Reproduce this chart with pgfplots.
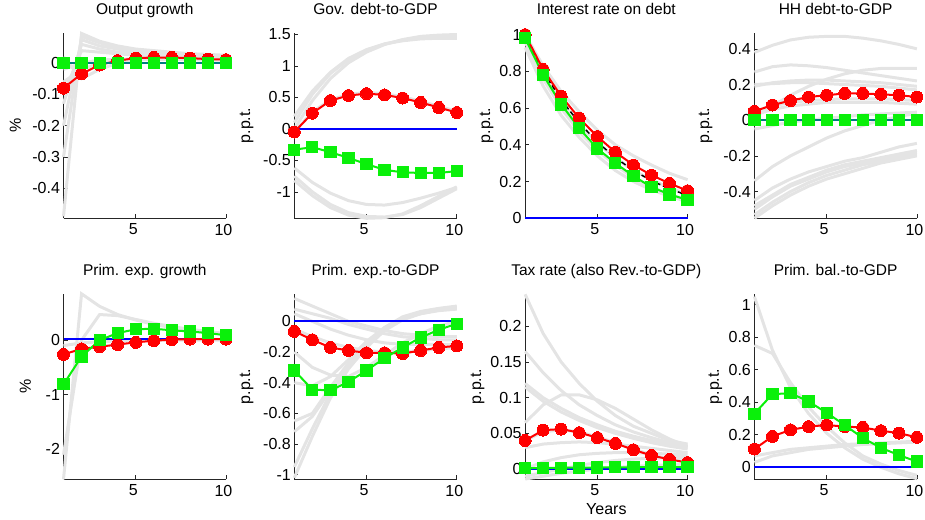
\documentclass[border=0pt]{standalone}
\usepackage{pgfplots}
\pgfplotsset{compat=1.18}
\usepackage{fontspec}
\setmainfont{Liberation Sans}
\definecolor{gl}{RGB}{228,228,228}
\definecolor{mred}{RGB}{255,0,0}
\definecolor{mgreen}{RGB}{10,240,10}
\definecolor{mblue}{RGB}{0,0,255}
\definecolor{mteal}{RGB}{0,125,128}
\newcommand{\fs}{\fontsize{16}{18}\selectfont}
\newcommand{\fst}{\fontsize{15.5}{17}\selectfont}
\newcommand{\gline}[1]{\addplot[grayl] table[x expr=\coordindex+1, y index=0, header=false, row sep=\\]{#1};}
\pgfplotsset{
 panel/.style={scale only axis, width=162.5pt, height=185.5pt, xmin=1, xmax=10, xtick={5,10},
  axis x line*=bottom, axis y line*=left, axis line style={-, draw=black!85, line width=0.7pt},
  tick align=inside, major tick length=4pt, tick style={draw=black!85, line width=0.7pt},
  tick label style={font=\fs}, /pgf/number format/assume math mode=true,
  yticklabel style={/pgf/number format/fixed, /pgf/number format/precision=2},
  xticklabel style={yshift=-2pt, xshift=-2.5pt},
  scaled y ticks=false, clip=false,
  title style={font=\fst, at={(0.5,1)}, anchor=base, yshift=12pt},
  label style={font=\fs},
 },
 grayl/.style={draw=gl, line width=3pt},
 redl/.style={draw=mred, line width=2pt, mark=*, mark size=6pt, mark options={fill=mred, draw=mred, line width=0pt}},
 greenl/.style={draw=mgreen, line width=2pt, mark=square*, mark size=5.6pt, mark options={fill=mgreen, draw=mgreen, line width=0pt}},
 bluel/.style={draw=mblue, line width=2pt},
 ylab/.style={ylabel style={at={(axis description cs:-#1,0.5)}, anchor=center}},
}
\begin{document}
\begin{tikzpicture}
\path[use as bounding box] (0,0) rectangle (925pt,519pt);
% ---------- Panel 1
\begin{axis}[panel, at={(63.5pt,300.7pt)}, anchor=south west, ymin=-0.496, ymax=0.097,
 ytick={-0.4,-0.3,-0.2,-0.1,0}, title={Output growth}, ylabel={\%}, ylab=0.296]
\gline{-0.49\\0.095\\0.07\\0.055\\0.045\\0.04\\0.035\\0.03\\0.028\\0.025\\}
\gline{-0.30\\0.085\\0.065\\0.05\\0.04\\0.035\\0.03\\0.028\\0.025\\0.022\\}
\gline{-0.20\\0.075\\0.055\\0.045\\0.035\\0.03\\0.027\\0.025\\0.022\\0.02\\}
\gline{-0.13\\0.06\\0.045\\0.035\\0.03\\0.027\\0.025\\0.022\\0.02\\0.018\\}
\gline{-0.10\\0.04\\0.035\\0.03\\0.025\\0.022\\0.02\\0.018\\0.016\\0.015\\}
\gline{-0.06\\-0.02\\0.0\\0.01\\0.015\\0.017\\0.017\\0.016\\0.014\\0.012\\}
\gline{0.02\\-0.05\\-0.02\\0.0\\0.01\\0.012\\0.012\\0.012\\0.011\\0.01\\}
\gline{-0.02\\0.0\\0.01\\0.012\\0.012\\0.012\\0.012\\0.011\\0.01\\0.01\\}
\addplot[redl] coordinates {(1,-0.08)(2,-0.034)(3,-0.006)(4,0.008)(5,0.016)(6,0.018)(7,0.018)(8,0.016)(9,0.013)(10,0.011)};
\addplot[greenl] coordinates {(1,0)(2,0)(3,0)(4,0)(5,0)(6,0)(7,0)(8,0)(9,0)(10,0)};
\addplot[draw=mteal, line width=1.5pt] coordinates {(1,0)(10,0)};
\end{axis}
% ---------- Panel 2
\begin{axis}[panel, at={(294.3pt,300.7pt)}, anchor=south west, ymin=-1.42, ymax=1.527,
 ytick={-1,-0.5,0,0.5,1,1.5}, title={Gov. debt-to-GDP}, ylabel={p.p.t.}, ylab=0.293]
\gline{0.0\\0.45\\0.8\\1.05\\1.22\\1.34\\1.42\\1.47\\1.49\\1.50\\}
\gline{0.1\\0.55\\0.88\\1.1\\1.25\\1.35\\1.41\\1.44\\1.45\\1.45\\}
\gline{0.2\\0.6\\0.9\\1.12\\1.26\\1.35\\1.4\\1.43\\1.44\\1.44\\}
\gline{-0.05\\0.27\\0.46\\0.55\\0.58\\0.56\\0.51\\0.44\\0.36\\0.28\\}
\gline{-0.62\\-0.85\\-1.02\\-1.14\\-1.2\\-1.21\\-1.17\\-1.1\\-1.02\\-0.93\\}
\gline{-0.75\\-1.0\\-1.2\\-1.33\\-1.39\\-1.4\\-1.36\\-1.25\\-1.1\\-0.95\\}
\gline{-0.82\\-1.06\\-1.25\\-1.37\\-1.42\\-1.41\\-1.35\\-1.22\\-1.07\\-0.92\\}
\addplot[bluel] coordinates {(1,0)(10,0)};
\addplot[redl] coordinates {(1,-0.05)(2,0.25)(3,0.45)(4,0.53)(5,0.56)(6,0.54)(7,0.49)(8,0.42)(9,0.34)(10,0.26)};
\addplot[greenl] coordinates {(1,-0.33)(2,-0.29)(3,-0.37)(4,-0.46)(5,-0.56)(6,-0.65)(7,-0.69)(8,-0.70)(9,-0.70)(10,-0.67)};
\end{axis}
% ---------- Panel 3
\begin{axis}[panel, at={(525.1pt,300.7pt)}, anchor=south west, ymin=0, ymax=1.01,
 ytick={0,0.2,0.4,0.6,0.8,1}, title={Interest rate on debt}, ylabel={p.p.t.}, ylab=0.237]
\gline{1.0\\0.83\\0.69\\0.58\\0.48\\0.40\\0.34\\0.29\\0.245\\0.21\\}
\gline{0.96\\0.76\\0.60\\0.47\\0.37\\0.29\\0.22\\0.17\\0.13\\0.10\\}
\gline{0.98\\0.79\\0.64\\0.51\\0.41\\0.33\\0.26\\0.21\\0.165\\0.13\\}
\gline{0.93\\0.72\\0.56\\0.44\\0.34\\0.26\\0.20\\0.155\\0.12\\0.09\\}
\addplot[bluel] coordinates {(1,0)(10,0)};
\addplot[draw=black, line width=1.5pt, dash pattern=on 5pt off 3pt] coordinates {(1,0.99)(2,0.80)(3,0.645)(4,0.52)(5,0.415)(6,0.33)(7,0.26)(8,0.205)(9,0.16)(10,0.125)};
\addplot[redl] coordinates {(1,1.0)(2,0.81)(3,0.665)(4,0.545)(5,0.445)(6,0.36)(7,0.29)(8,0.235)(9,0.19)(10,0.15)};
\addplot[greenl] coordinates {(1,0.98)(2,0.78)(3,0.62)(4,0.49)(5,0.38)(6,0.30)(7,0.23)(8,0.17)(9,0.13)(10,0.10)};
\end{axis}
% ---------- Panel 4
\begin{axis}[panel, at={(754.4pt,300.7pt)}, anchor=south west, ymin=-0.55, ymax=0.49,
 ytick={-0.4,-0.2,0,0.2,0.4}, title={HH debt-to-GDP}, ylabel={p.p.t.}, ylab=0.30]
\gline{0.38\\0.42\\0.45\\0.465\\0.47\\0.47\\0.46\\0.445\\0.425\\0.40\\}
\gline{0.27\\0.30\\0.31\\0.305\\0.295\\0.28\\0.265\\0.25\\0.235\\0.22\\}
\gline{0.02\\0.08\\0.14\\0.19\\0.23\\0.26\\0.28\\0.29\\0.29\\0.29\\}
\gline{0.19\\0.21\\0.22\\0.225\\0.225\\0.22\\0.215\\0.21\\0.2\\0.19\\}
\gline{0.2\\0.205\\0.21\\0.21\\0.205\\0.2\\0.195\\0.19\\0.18\\0.17\\}
\gline{0.03\\0.06\\0.08\\0.09\\0.1\\0.1\\0.1\\0.1\\0.095\\0.09\\}
\gline{0.05\\0.08\\0.1\\0.11\\0.115\\0.12\\0.12\\0.12\\0.115\\0.11\\}
\gline{-0.05\\-0.03\\-0.01\\0.0\\0.01\\0.02\\0.03\\0.035\\0.04\\0.045\\}
\gline{-0.34\\-0.26\\-0.2\\-0.15\\-0.1\\-0.06\\-0.03\\0.0\\0.02\\0.04\\}
\gline{-0.45\\-0.38\\-0.33\\-0.29\\-0.26\\-0.23\\-0.21\\-0.18\\-0.15\\-0.13\\}
\gline{-0.5\\-0.43\\-0.37\\-0.33\\-0.29\\-0.26\\-0.24\\-0.22\\-0.2\\-0.18\\}
\gline{-0.53\\-0.46\\-0.4\\-0.35\\-0.31\\-0.28\\-0.25\\-0.23\\-0.21\\-0.19\\}
\gline{-0.55\\-0.48\\-0.42\\-0.37\\-0.33\\-0.3\\-0.27\\-0.24\\-0.22\\-0.2\\}
\gline{-0.48\\-0.42\\-0.36\\-0.32\\-0.28\\-0.25\\-0.23\\-0.21\\-0.19\\-0.17\\}
\addplot[redl] coordinates {(1,0.05)(2,0.085)(3,0.11)(4,0.13)(5,0.14)(6,0.15)(7,0.15)(8,0.145)(9,0.14)(10,0.13)};
\addplot[greenl] coordinates {(1,0)(2,0)(3,0)(4,0)(5,0)(6,0)(7,0)(8,0)(9,0)(10,0)};
\addplot[draw=mteal, line width=1.5pt] coordinates {(1,0)(10,0)};
\end{axis}
% ---------- Panel 5
\begin{axis}[panel, at={(63.5pt,39.7pt)}, anchor=south west, ymin=-2.55, ymax=0.85,
 ytick={-2,-1,0}, title={Prim. exp. growth}, ylabel={\%}, ylab=0.235]
\gline{-2.55\\0.85\\0.62\\0.47\\0.37\\0.29\\0.23\\0.18\\0.14\\0.11\\}
\gline{-2.1\\0.0\\0.47\\0.45\\0.38\\0.31\\0.25\\0.2\\0.16\\0.12\\}
\gline{-0.1\\-0.05\\-0.03\\-0.02\\-0.01\\0\\0\\0\\0\\0\\}
\addplot[bluel] coordinates {(1,0.02)(10,0.02)};
\addplot[redl] coordinates {(1,-0.26)(2,-0.16)(3,-0.12)(4,-0.08)(5,-0.04)(6,-0.01)(7,0.01)(8,0.02)(9,0.02)(10,0.02)};
\addplot[greenl] coordinates {(1,-0.81)(2,-0.30)(3,0.0)(4,0.13)(5,0.20)(6,0.21)(7,0.18)(8,0.16)(9,0.13)(10,0.09)};
\end{axis}
% ---------- Panel 6
\begin{axis}[panel, at={(294.3pt,39.7pt)}, anchor=south west, ymin=-1.03, ymax=0.18,
 ytick={-1,-0.8,-0.6,-0.4,-0.2,0}, title={Prim. exp.-to-GDP}, ylabel={p.p.t.}, ylab=0.293]
\gline{0.15\\0.1\\0.05\\0.0\\-0.03\\-0.06\\-0.08\\-0.09\\-0.1\\-0.1\\}
\gline{0.08\\0.05\\0.02\\-0.02\\-0.05\\-0.08\\-0.1\\-0.11\\-0.12\\-0.12\\}
\gline{0.05\\0.0\\-0.05\\-0.09\\-0.12\\-0.14\\-0.15\\-0.15\\-0.15\\-0.15\\}
\gline{-0.05\\-0.1\\-0.14\\-0.17\\-0.19\\-0.2\\-0.2\\-0.19\\-0.18\\-0.17\\}
\gline{-0.2\\-0.3\\-0.35\\-0.36\\-0.3\\-0.22\\-0.14\\-0.08\\-0.03\\0.0\\}
\gline{-1.02\\-0.75\\-0.5\\-0.31\\-0.17\\-0.06\\0.01\\0.05\\0.075\\0.09\\}
\gline{-0.95\\-0.7\\-0.47\\-0.29\\-0.15\\-0.05\\0.02\\0.06\\0.08\\0.095\\}
\gline{-0.72\\-0.62\\-0.45\\-0.28\\-0.15\\-0.05\\0.02\\0.06\\0.08\\0.09\\}
\gline{-0.65\\-0.6\\-0.43\\-0.27\\-0.14\\-0.04\\0.03\\0.065\\0.085\\0.1\\}
\gline{-0.4\\-0.42\\-0.36\\-0.25\\-0.13\\-0.04\\0.02\\0.05\\0.07\\0.08\\}
\addplot[bluel] coordinates {(1,0)(10,0)};
\addplot[redl] coordinates {(1,-0.065)(2,-0.12)(3,-0.17)(4,-0.19)(5,-0.205)(6,-0.205)(7,-0.21)(8,-0.19)(9,-0.17)(10,-0.16)};
\addplot[greenl] coordinates {(1,-0.32)(2,-0.445)(3,-0.45)(4,-0.395)(5,-0.32)(6,-0.24)(7,-0.17)(8,-0.105)(9,-0.055)(10,-0.015)};
\end{axis}
% ---------- Panel 7
\begin{axis}[panel, at={(525.1pt,39.7pt)}, anchor=south west, ymin=-0.0144, ymax=0.2457,
 ytick={0,0.05,0.1,0.15,0.2}, title={Tax rate (also Rev.-to-GDP)}, ylabel={p.p.t.}, ylab=0.293, xlabel={Years}]
\gline{0.245\\0.19\\0.15\\0.12\\0.095\\0.075\\0.06\\0.05\\0.04\\0.035\\}
\gline{0.165\\0.135\\0.11\\0.09\\0.075\\0.062\\0.052\\0.044\\0.037\\0.032\\}
\gline{0.065\\0.09\\0.104\\0.104\\0.097\\0.085\\0.07\\0.055\\0.042\\0.032\\}
\gline{0.12\\0.1\\0.085\\0.072\\0.062\\0.053\\0.046\\0.04\\0.035\\0.03\\}
\gline{0.115\\0.095\\0.08\\0.068\\0.058\\0.05\\0.043\\0.037\\0.032\\0.028\\}
\gline{0.03\\0.035\\0.037\\0.038\\0.037\\0.035\\0.032\\0.029\\0.026\\0.023\\}
\gline{0.0\\0.01\\0.016\\0.02\\0.022\\0.023\\0.023\\0.022\\0.021\\0.02\\}
\gline{-0.01\\-0.005\\0.0\\0.005\\0.009\\0.012\\0.014\\0.015\\0.016\\0.016\\}
\gline{0.04\\0.052\\0.055\\0.052\\0.045\\0.037\\0.028\\0.02\\0.014\\0.01\\}
\gline{-0.014\\-0.01\\-0.006\\-0.003\\0.0\\0.002\\0.004\\0.005\\0.006\\0.007\\}
\addplot[bluel] coordinates {(1,0)(10,0)};
\addplot[redl] coordinates {(1,0.040)(2,0.0545)(3,0.056)(4,0.051)(5,0.044)(6,0.036)(7,0.027)(8,0.019)(9,0.0135)(10,0.009)};
\addplot[greenl] coordinates {(1,0.001)(2,0.0015)(3,0.0018)(4,0.002)(5,0.0022)(6,0.0024)(7,0.0025)(8,0.0025)(9,0.0025)(10,0.0025)};
\end{axis}
% ---------- Panel 8
\begin{axis}[panel, at={(754.4pt,39.7pt)}, anchor=south west, ymin=-0.074, ymax=1.067,
 ytick={0,0.2,0.4,0.6,0.8,1}, title={Prim. bal.-to-GDP}, ylabel={p.p.t.}, ylab=0.24]
\gline{1.05\\0.72\\0.49\\0.33\\0.21\\0.12\\0.05\\0.0\\-0.04\\-0.07\\}
\gline{0.75\\0.7\\0.52\\0.37\\0.25\\0.15\\0.07\\0.02\\-0.02\\-0.05\\}
\gline{0.03\\0.07\\0.09\\0.11\\0.12\\0.13\\0.14\\0.145\\0.15\\0.155\\}
\gline{0.07\\0.09\\0.11\\0.12\\0.13\\0.14\\0.145\\0.15\\0.155\\0.16\\}
\addplot[bluel] coordinates {(1,0)(10,0)};
\addplot[redl] coordinates {(1,0.112)(2,0.19)(3,0.23)(4,0.25)(5,0.26)(6,0.25)(7,0.245)(8,0.225)(9,0.21)(10,0.184)};
\addplot[greenl] coordinates {(1,0.33)(2,0.45)(3,0.455)(4,0.405)(5,0.335)(6,0.26)(7,0.18)(8,0.12)(9,0.075)(10,0.035)};
\end{axis}
\end{tikzpicture}
\end{document}
